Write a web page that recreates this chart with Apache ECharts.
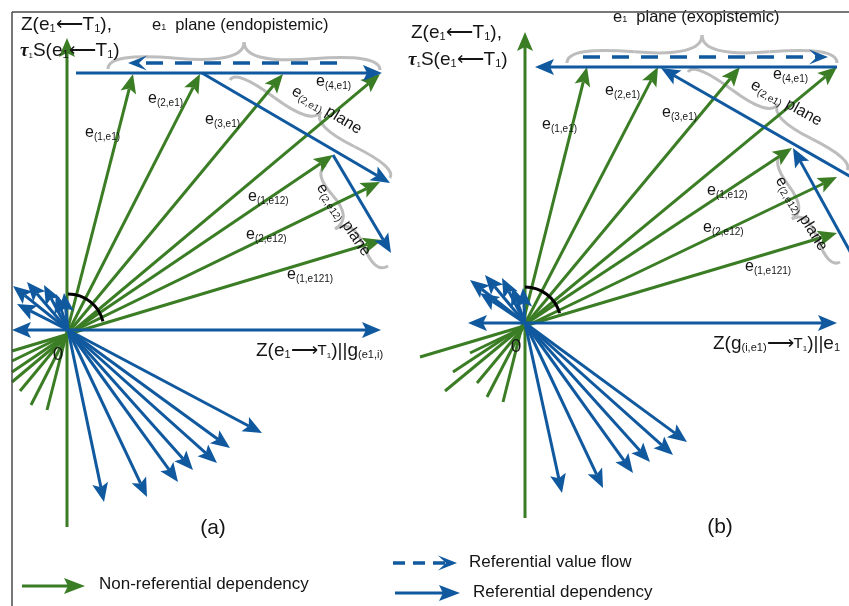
<!DOCTYPE html>
<html>
<head>
<meta charset="utf-8">
<title>Referential and non-referential dependencies</title>
<script src="https://cdn.jsdelivr.net/npm/echarts@6/dist/echarts.min.js"></script>
<style>
  html, body { margin: 0; padding: 0; background: #fff; }
  #chart { width: 849px; height: 606px; }
</style>
</head>
<body>
<div id="chart"></div>
<script>
// ---------------------------------------------------------------------------
// Diagram geometry, in diagram units (x to the right, y downwards).
// ---------------------------------------------------------------------------

// Frame edges of panel (a)
const frameEdges = [[12, 12, 849, 12], [12, 12, 12, 606]];

// Ordinate axes Z(e1<-T1) (green), tail -> head
const ordinates = [[67, 527, 67, 38], [525, 518, 525, 32]];

// Abscissa axes (blue, double headed)
const abscissas = [[12, 330, 381, 330], [468, 323, 837, 323]];

// Non-referential dependencies, panel (a): tail -> head
const nonRefA = [
  [47, 410, 133, 74],   // e(1,e1)
  [31, 405, 200, 74],   // e(2,e1)
  [20, 391, 283, 74],   // e(3,e1)
  [12, 382, 380, 74],   // e(4,e1)
  [12, 372, 333, 155],  // e(1,e12)
  [12, 361, 380, 182],  // e(2,e12)
  [12, 351, 382, 240]   // e(1,e121)
];

// Non-referential dependencies, panel (b)
const nonRefB = [
  [503, 402, 587, 67],  // e(1,e1)
  [487, 397, 658, 67],  // e(2,e1)
  [477, 383, 740, 67],  // e(3,e1)
  [445, 391, 837, 67],  // e(4,e1)
  [453, 372, 792, 148], // e(1,e12)
  [470, 353, 837, 177], // e(2,e12)
  [420, 357, 837, 233]  // e(1,e121)
];

// Referential dependencies fanning out of the origin, panel (a)
const refFanA = [
  [68, 330, 262, 433], [68, 330, 230, 448], [68, 330, 217, 463],
  [68, 330, 193, 470], [68, 330, 178, 482], [68, 330, 147, 497],
  [68, 330, 104, 502],
  [68, 330, 13, 286], [68, 330, 27, 282], [68, 330, 44, 285],
  [68, 330, 56, 294], [68, 330, 17, 304], [68, 330, 64, 293]
];

// Referential dependencies fanning out of the origin, panel (b)
const refFanB = [
  [525, 323, 687, 442], [525, 323, 673, 455], [525, 323, 650, 462],
  [525, 323, 633, 473], [525, 323, 603, 488], [525, 323, 562, 493],
  [525, 323, 470, 280], [525, 323, 485, 275], [525, 323, 502, 278],
  [525, 323, 512, 287], [525, 323, 480, 293], [525, 323, 523, 288]
];

// Referential dependencies inside the e1 plane
const refPlane = [
  [76, 73, 382, 73], [202, 73, 390, 183], [333, 155, 391, 253],   // (a)
  [837, 67, 535, 67], [858, 181, 661, 68], [853, 257, 793, 148]   // (b)
];

// Referential value flows (dashed)
const valueFlows = [[337, 63, 128, 63], [583, 57, 828, 57]];

// Plane braces: end 1, end 2, cusp
const braces = [
  [108, 69, 380, 70, 245, 42],
  [230, 80, 390, 178, 320, 111],
  [326, 165, 388, 266, 334, 227],
  [567, 63, 837, 63, 702, 35],
  [688, 72, 847, 170, 778, 104],
  [782, 155, 840, 262, 792, 219]
];

// Angle between the ordinate and the dependencies: centre, radius, end angle (deg)
const angleArcs = [[68, 330, 36, 14], [525, 323, 36, 16]];

// Text: x, y, content, rotation (deg), alignment
const texts = [
  // panel (a)
  [21, 25, '{b|Z(e}{bs|1}{b|⟵T}{bs|1}{b|),}', 0, 'left'],
  [20, 51, '{tau|τ}{tiny|1}{b|S(e}{bs|1}{b|⟵T}{bs|1}{b|)}', 0, 'left'],
  [152, 25, '{t|e}{ts|1}{t|  plane (endopistemic)}', 0, 'left'],
  [85, 133, '{m|e}{s|(1,e1)}', 0, 'left'],
  [148, 99, '{m|e}{s|(2,e1)}', 0, 'left'],
  [205, 120, '{m|e}{s|(3,e1)}', 0, 'left'],
  [316, 82, '{m|e}{s|(4,e1)}', 0, 'left'],
  [248, 197, '{m|e}{s|(1,e12)}', 0, 'left'],
  [246, 235, '{m|e}{s|(2,e12)}', 0, 'left'],
  [287, 275, '{m|e}{s|(1,e121)}', 0, 'left'],
  [293, 90, '{m|e}{s|(2,e1)}{m| plane}', -31, 'left'],
  [320, 185, '{m|e}{s|(2,e12)}{m| plane}', -56, 'left'],
  [58, 355, '{n|0}', 0, 'center'],
  [256, 351, '{b|Z(e}{bs|1}{b|⟶}{c|T}{tiny|1}{b|)||g}{bs|(e1,i)}', 0, 'left'],
  [213, 528, '{p|(a)}', 0, 'center'],
  // panel (b)
  [411, 33, '{b|Z(e}{bs|1}{b|⟵T}{bs|1}{b|),}', 0, 'left'],
  [408, 60, '{tau|τ}{tiny|1}{b|S(e}{bs|1}{b|⟵T}{bs|1}{b|)}', 0, 'left'],
  [613, 17, '{t|e}{ts|1}{t|  plane (exopistemic)}', 0, 'left'],
  [542, 125, '{m|e}{s|(1,e1)}', 0, 'left'],
  [605, 91, '{m|e}{s|(2,e1)}', 0, 'left'],
  [662, 113, '{m|e}{s|(3,e1)}', 0, 'left'],
  [773, 75, '{m|e}{s|(4,e1)}', 0, 'left'],
  [707, 191, '{m|e}{s|(1,e12)}', 0, 'left'],
  [703, 228, '{m|e}{s|(2,e12)}', 0, 'left'],
  [745, 267, '{m|e}{s|(1,e121)}', 0, 'left'],
  [752, 84, '{m|e}{s|(2,e1)}{m| plane}', -29, 'left'],
  [779, 178, '{m|e}{s|(2,e12)}{m| plane}', -58, 'left'],
  [516, 347, '{n|0}', 0, 'center'],
  [713, 344, '{b|Z(g}{bs|(i,e1)}{b|⟶}{c|T}{tiny|1}{b|)||e}{bs|1}', 0, 'left'],
  [720, 527, '{p|(b)}', 0, 'center'],
  // legend
  [99, 584, '{lg|Non-referential dependency}', 0, 'left'],
  [469, 562, '{lg|Referential value flow}', 0, 'left'],
  [473, 592, '{lg|Referential dependency}', 0, 'left']
];

// Legend keys
const legendNonRef = [[22, 586, 85, 586]];
const legendFlow = [[393, 563, 457, 563]];
const legendRef = [[395, 593, 460, 593]];

// ---------------------------------------------------------------------------
// Styles
// ---------------------------------------------------------------------------
const GREEN = '#3a7d24';
const BLUE = '#10599f';
const GRAY = '#bdbdbd';
const INK = '#151515';
const SANS = '"Liberation Sans", Arial, Helvetica, sans-serif';

const RICH = {
  m: { fontSize: 16, fontFamily: SANS, fill: INK },
  s: { fontSize: 10, fontFamily: SANS, fill: INK, padding: [8, 0, 0, 0] },
  b: { fontSize: 19, fontFamily: SANS, fill: INK },
  bs: { fontSize: 11, fontFamily: SANS, fill: INK, padding: [7, 0, 0, 0] },
  c: { fontSize: 15, fontFamily: SANS, fill: INK },
  tiny: { fontSize: 8, fontFamily: SANS, fill: INK, padding: [9, 0, 0, 0] },
  tau: { fontSize: 19, fontFamily: '"Liberation Serif", "DejaVu Serif", serif', fontWeight: 'bold', fontStyle: 'italic', fill: INK },
  t: { fontSize: 16.5, fontFamily: SANS, fill: INK },
  ts: { fontSize: 9, fontFamily: SANS, fill: INK, padding: [6, 0, 0, 0] },
  n: { fontSize: 19, fontFamily: SANS, fill: INK },
  p: { fontSize: 21, fontFamily: SANS, fill: INK },
  lg: { fontSize: 17, fontFamily: SANS, fill: INK }
};

const solidHead = { len: 19, half: 8, notch: 4 };
const flowHead = { len: 19, half: 7.5, notch: 8 };
const legendHead = { len: 21, half: 8, notch: 4 };

// ---------------------------------------------------------------------------
// Rendering helpers (custom series on a cartesian grid)
// ---------------------------------------------------------------------------
function headPolygon(tip, ux, uy, head, color) {
  const nx = -uy, ny = ux;
  const bx = tip[0] - ux * head.len, by = tip[1] - uy * head.len;
  return {
    type: 'polygon',
    shape: {
      points: [
        tip,
        [bx + nx * head.half, by + ny * head.half],
        [tip[0] - ux * (head.len - head.notch), tip[1] - uy * (head.len - head.notch)],
        [bx - nx * head.half, by - ny * head.half]
      ]
    },
    style: { fill: color }
  };
}

function arrowSeries(data, opt) {
  return {
    type: 'custom',
    coordinateSystem: 'cartesian2d',
    silent: true,
    data: data,
    renderItem: function (params, api) {
      const a = api.coord([api.value(0), api.value(1)]);
      const b = api.coord([api.value(2), api.value(3)]);
      let ux = b[0] - a[0], uy = b[1] - a[1];
      const len = Math.hypot(ux, uy);
      ux /= len; uy /= len;
      const children = [];
      let start = a, end = b;
      if (opt.head) {
        const back = opt.head.len - opt.head.notch;
        end = [b[0] - ux * back, b[1] - uy * back];
        if (opt.both) start = [a[0] + ux * back, a[1] + uy * back];
      }
      children.push({
        type: 'line',
        shape: { x1: start[0], y1: start[1], x2: end[0], y2: end[1] },
        style: { stroke: opt.color, lineWidth: opt.width, lineDash: opt.dash || null, lineCap: 'butt' }
      });
      if (opt.head) {
        children.push(headPolygon(b, ux, uy, opt.head, opt.color));
        if (opt.both) children.push(headPolygon(a, -ux, -uy, opt.head, opt.color));
      }
      return { type: 'group', children: children };
    }
  };
}

function braceSeries(data) {
  return {
    type: 'custom',
    coordinateSystem: 'cartesian2d',
    silent: true,
    data: data,
    renderItem: function (params, api) {
      const a = api.coord([api.value(0), api.value(1)]);
      const b = api.coord([api.value(2), api.value(3)]);
      const c = api.coord([api.value(4), api.value(5)]);
      let ux = b[0] - a[0], uy = b[1] - a[1];
      const L = Math.hypot(ux, uy);
      ux /= L; uy /= L;
      const nx = -uy, ny = ux;
      const mx = (a[0] + b[0]) / 2, my = (a[1] + b[1]) / 2;
      const w = (c[0] - mx) * nx + (c[1] - my) * ny;
      const q = 0.6;
      const pt = (s, o) => [a[0] + ux * s + nx * o, a[1] + uy * s + ny * o];
      const q1 = pt(0, q * w), q2 = pt(0.25 * L, (1 - q) * w), tip = pt(0.5 * L, w);
      const q3 = [b[0] + nx * q * w, b[1] + ny * q * w], q4 = pt(0.75 * L, (1 - q) * w);
      const r1 = [2 * q2[0] - q1[0], 2 * q2[1] - q1[1]];
      const r2 = [2 * q4[0] - q3[0], 2 * q4[1] - q3[1]];
      const st = { stroke: GRAY, lineWidth: 3, fill: null };
      const curve = (p, cp, e) => ({
        type: 'bezierCurve',
        shape: { x1: p[0], y1: p[1], cpx1: cp[0], cpy1: cp[1], x2: e[0], y2: e[1] },
        style: st
      });
      return {
        type: 'group',
        children: [curve(a, q1, q2), curve(q2, r1, tip), curve(b, q3, q4), curve(q4, r2, tip)]
      };
    }
  };
}

function arcSeries(data) {
  return {
    type: 'custom',
    coordinateSystem: 'cartesian2d',
    silent: true,
    data: data,
    renderItem: function (params, api) {
      const c = api.coord([api.value(0), api.value(1)]);
      const r = api.size([api.value(2), 0])[0];
      return {
        type: 'arc',
        shape: { cx: c[0], cy: c[1], r: r, startAngle: -Math.PI / 2, endAngle: -api.value(3) * Math.PI / 180, clockwise: true },
        style: { stroke: '#000', lineWidth: 3, fill: null }
      };
    }
  };
}

function textSeries(items) {
  return {
    type: 'custom',
    coordinateSystem: 'cartesian2d',
    silent: true,
    data: items.map(t => [t[0], t[1]]),
    renderItem: function (params, api) {
      const t = items[params.dataIndex];
      const p = api.coord([api.value(0), api.value(1)]);
      return {
        type: 'text',
        x: p[0],
        y: p[1],
        rotation: (t[3] || 0) * Math.PI / 180,
        style: {
          text: t[2],
          rich: RICH,
          fill: INK,
          font: '15px ' + SANS,
          align: t[4] || 'left',
          verticalAlign: 'middle'
        }
      };
    }
  };
}

// ---------------------------------------------------------------------------
// Chart
// ---------------------------------------------------------------------------
const chart = echarts.init(document.getElementById('chart'), null, { renderer: 'canvas', devicePixelRatio: 1 });

chart.setOption({
  animation: false,
  backgroundColor: '#ffffff',
  grid: { left: 0, right: 0, top: 0, bottom: 0 },
  xAxis: { type: 'value', min: 0, max: 849, show: false },
  yAxis: { type: 'value', min: 0, max: 606, inverse: true, show: false },
  series: [
    braceSeries(braces),
    arrowSeries(nonRefA.concat(nonRefB), { color: GREEN, width: 3, head: solidHead }),
    arrowSeries(ordinates, { color: GREEN, width: 3, head: solidHead }),
    arrowSeries(refFanA.concat(refFanB), { color: BLUE, width: 3, head: solidHead }),
    arrowSeries(refPlane, { color: BLUE, width: 3, head: solidHead }),
    arrowSeries(abscissas, { color: BLUE, width: 3, head: solidHead, both: true }),
    arrowSeries(valueFlows, { color: BLUE, width: 3.5, head: flowHead, dash: [17, 12] }),
    arcSeries(angleArcs),
    textSeries(texts),
    arrowSeries(frameEdges, { color: '#4a4a4a', width: 1.5 }),
    arrowSeries(legendNonRef, { color: GREEN, width: 3, head: legendHead }),
    arrowSeries(legendFlow, { color: BLUE, width: 3.5, head: flowHead, dash: [12, 8] }),
    arrowSeries(legendRef, { color: BLUE, width: 3, head: legendHead })
  ]
});
</script>
</body>
</html>
